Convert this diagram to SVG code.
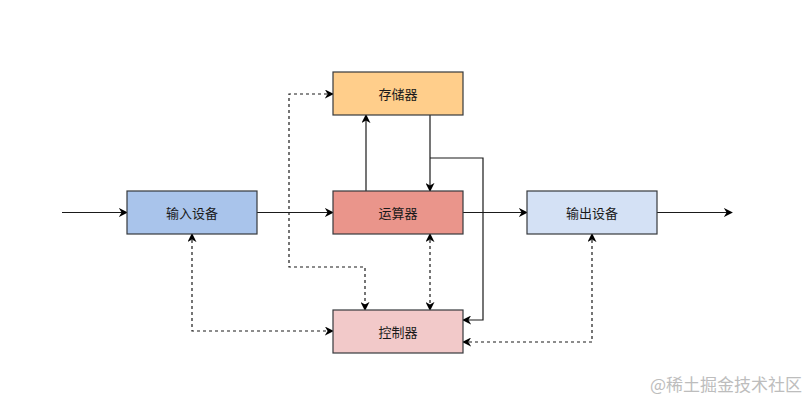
<svg xmlns="http://www.w3.org/2000/svg" width="806" height="402" viewBox="0 0 806 402">
<defs>
<marker id="ah" viewBox="0 0 10 10" refX="9" refY="5" markerWidth="9" markerHeight="9" markerUnits="userSpaceOnUse" orient="auto-start-reverse">
<path d="M0,0 L10,5 L0,10 L3,5 z" fill="#000"/>
</marker>
<style>
.box{stroke:#36393d;stroke-width:1.2}
.lbl{font-family:"Noto Sans CJK SC","Noto Sans",sans-serif;font-size:13px;fill:#1a1a1a;text-anchor:middle;dominant-baseline:central}
.ln{fill:none;stroke:#1a1a1a;stroke-width:1.2}
.ds{fill:none;stroke:#1a1a1a;stroke-width:1.2;stroke-dasharray:3,3}
.wm{font-family:"Noto Sans CJK SC","Noto Sans",sans-serif;font-size:17px;fill:#bdbdbd}
</style>
</defs>
<rect width="806" height="402" fill="#ffffff"/>
<g id="connectors">
<path class="ln" d="M62,212.5 H127" marker-end="url(#ah)"/>
<path class="ln" d="M257,212.5 H333" marker-end="url(#ah)"/>
<path class="ln" d="M463,212.5 H527" marker-end="url(#ah)"/>
<path class="ln" d="M657,212.5 H732" marker-end="url(#ah)"/>
<path class="ln" d="M366,191 V115" marker-end="url(#ah)"/>
<path class="ln" d="M430,115 V191" marker-end="url(#ah)"/>
<path class="ln" d="M430,158 H483 V320 H463" marker-end="url(#ah)"/>
<path class="ds" d="M333,94 H289 V267 H365 V310" marker-start="url(#ah)" marker-end="url(#ah)"/>
<path class="ds" d="M430,234 V310" marker-start="url(#ah)" marker-end="url(#ah)"/>
<path class="ds" d="M192,234 V331 H333" marker-start="url(#ah)" marker-end="url(#ah)"/>
<path class="ds" d="M592,234 V342 H463" marker-start="url(#ah)" marker-end="url(#ah)"/>
</g>
<g id="memory">
<rect class="box" x="333" y="72" width="130" height="43" fill="#FFCE8B"/>
<text class="lbl" x="398" y="93.5">存储器</text>
</g>
<g id="input">
<rect class="box" x="127" y="191" width="130" height="43" fill="#A9C4EB"/>
<text class="lbl" x="192" y="212.5">输入设备</text>
</g>
<g id="alu">
<rect class="box" x="333" y="191" width="130" height="43" fill="#EA958B"/>
<text class="lbl" x="398" y="212.5">运算器</text>
</g>
<g id="output">
<rect class="box" x="527" y="191" width="130" height="43" fill="#D4E1F5"/>
<text class="lbl" x="592" y="212.5">输出设备</text>
</g>
<g id="control">
<rect class="box" x="333" y="310" width="130" height="43" fill="#F2C9C9"/>
<text class="lbl" x="398" y="331.5">控制器</text>
</g>
<text class="wm" x="650" y="391">@稀土掘金技术社区</text>
</svg>
